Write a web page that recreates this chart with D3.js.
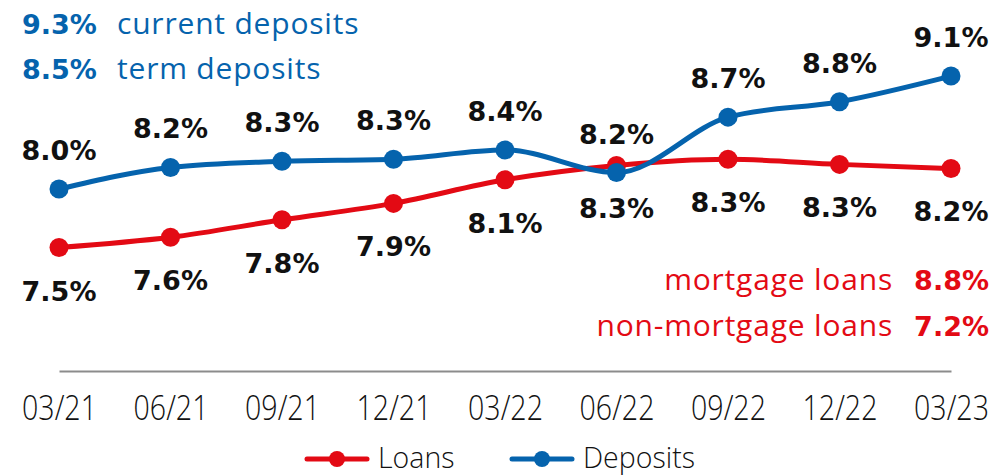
<!DOCTYPE html>
<html lang="en">
  <head>
    <meta charset="UTF-8" />
    <title>Loans and deposits</title>
    <script src="https://cdn.jsdelivr.net/npm/d3@7"></script>
    <style>
      body { margin: 0; background: #fff; }
      svg { display: block; }
    </style>
  </head>
  <body>
    <script>
      const width = 997;
      const height = 476;
      const red = "#e30a14";
      const blue = "#0563ad";

      // quarter ends on the x axis
      const periods = ["03/21", "06/21", "09/21", "12/21", "03/22", "06/22", "09/22", "12/22", "03/23"];
      // plotted rates
      const loans = [7.43, 7.53, 7.70, 7.86, 8.09, 8.23, 8.29, 8.24, 8.20];
      const deposits = [8.00, 8.21, 8.27, 8.29, 8.38, 8.16, 8.70, 8.85, 9.10];
      // rounded labels printed on the chart
      const loanLabels = ["7.5%", "7.6%", "7.8%", "7.9%", "8.1%", "8.3%", "8.3%", "8.3%", "8.2%"];
      const depositLabels = ["8.0%", "8.2%", "8.3%", "8.3%", "8.4%", "8.2%", "8.7%", "8.8%", "9.1%"];
      // side notes
      const depositNotes = [["9.3%", "current deposits"], ["8.5%", "term deposits"]];
      const loanNotes = [["mortgage loans", "8.8%"], ["non-mortgage loans", "7.2%"]];

      const svg = d3
        .select("body")
        .append("svg")
        .attr("width", width)
        .attr("height", height);

      const x = d3.scalePoint().domain(periods).range([59, 951]);
      const y = d3.scaleLinear().domain([7, 9.5]).range([291.7, 35]);

      // x axis
      const axis = svg
        .append("g")
        .attr("transform", "translate(0,371)")
        .call(d3.axisBottom(x).tickSize(0).tickSizeOuter(0));
      axis.select(".domain").attr("stroke", "#8c8c8c").attr("stroke-width", 2);
      axis
        .selectAll("text")
        .attr("y", 49)
        .attr("dy", 0)
        .attr("transform", "scale(0.84,1)")
        .attr("fill", "#111")
        .attr("font-family", "Open Sans")
        .attr("font-weight", 300)
        .attr("font-size", 34);

      const series = [
        { name: "Loans", values: loans, labels: loanLabels, color: red, offset: 53 },
        { name: "Deposits", values: deposits, labels: depositLabels, color: blue, offset: -29 },
      ];

      const line = d3
        .line()
        .x((d, i) => x(periods[i]))
        .y((d) => y(d))
        .curve(d3.curveMonotoneX);

      for (const s of series) {
        const g = svg.append("g");
        g.append("path")
          .attr("d", line(s.values))
          .attr("fill", "none")
          .attr("stroke", s.color)
          .attr("stroke-width", 5);
        g.selectAll("circle")
          .data(s.values)
          .join("circle")
          .attr("cx", (d, i) => x(periods[i]))
          .attr("cy", (d) => y(d))
          .attr("r", 9.5)
          .attr("fill", s.color);
      }

      // value labels drawn on top of both lines
      for (const s of series) {
        svg
          .append("g")
          .selectAll("text")
          .data(s.values)
          .join("text")
          .attr("x", (d, i) => x(periods[i]))
          .attr("y", (d) => y(d) + s.offset)
          .attr("text-anchor", "middle")
          .attr("font-family", "DejaVu Sans")
          .attr("font-weight", "bold")
          .attr("font-size", 27)
          .attr("fill", "#111")
          .text((d, i) => s.labels[i]);
      }

      // deposit notes, top left
      depositNotes.forEach(([v, t], i) => {
        const by = 34 + i * 45;
        svg.append("text")
          .attr("x", 22).attr("y", by)
          .attr("font-family", "DejaVu Sans").attr("font-weight", "bold")
          .attr("font-size", 27).attr("fill", blue)
          .text(v);
        svg.append("text")
          .attr("x", 117).attr("y", by)
          .attr("font-family", "Open Sans").attr("font-size", 30)
          .attr("letter-spacing", 0.8)
          .attr("fill", blue)
          .text(t);
      });

      // loan notes, bottom right
      loanNotes.forEach(([t, v], i) => {
        const by = 290 + i * 46;
        svg.append("text")
          .attr("x", 893).attr("y", by)
          .attr("text-anchor", "end")
          .attr("font-family", "Open Sans").attr("font-size", 30)
          .attr("letter-spacing", 0.8)
          .attr("fill", red)
          .text(t);
        svg.append("text")
          .attr("x", 989).attr("y", by)
          .attr("text-anchor", "end")
          .attr("font-family", "DejaVu Sans").attr("font-weight", "bold")
          .attr("font-size", 27).attr("fill", red)
          .text(v);
      });

      // legend
      const legend = svg
        .append("g")
        .selectAll("g")
        .data(series)
        .join("g")
        .attr("transform", (d, i) => `translate(${[307, 512][i]},459)`);
      legend.append("line")
        .attr("x1", 0).attr("x2", 60)
        .attr("stroke", (d) => d.color)
        .attr("stroke-width", 5)
        .attr("stroke-linecap", "round");
      legend.append("circle")
        .attr("cx", 30).attr("r", 8)
        .attr("fill", (d) => d.color);
      legend.append("text")
        .attr("x", 71).attr("y", 9)
        .attr("transform", "scale(0.95,1)")
        .attr("transform-origin", "71 0")
        .attr("font-family", "Open Sans").attr("font-weight", 300)
        .attr("font-size", 30).attr("fill", "#111")
        .text((d) => d.name);
    </script>
  </body>
</html>
